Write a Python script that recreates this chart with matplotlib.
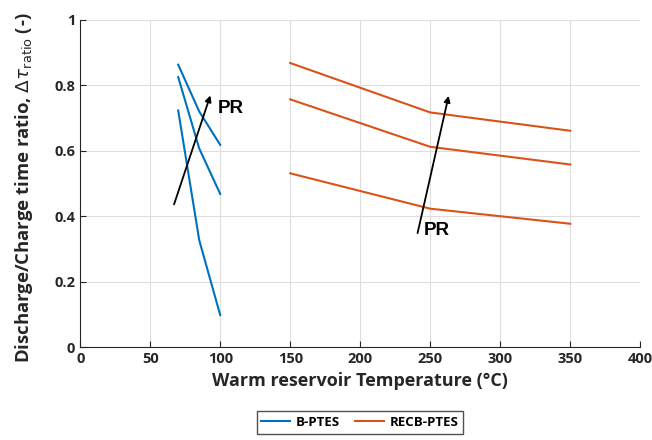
import matplotlib
matplotlib.use("Agg")
import matplotlib.pyplot as plt

# temperatures (°C)
t_b = [70, 85, 100]
t_recb = [150, 250, 350]

# discharge/charge time ratio, one curve per pressure ratio
b_ptes = [
    [0.723, 0.327, 0.098],
    [0.825, 0.607, 0.468],
    [0.863, 0.720, 0.618],
]
recb_ptes = [
    [0.531, 0.423, 0.377],
    [0.757, 0.612, 0.558],
    [0.868, 0.717, 0.661],
]

plt.rcParams['font.family'] = ['Open Sans', 'DejaVu Sans']
plt.rcParams['mathtext.fontset'] = 'dejavusans'

fig = plt.figure(figsize=(6.52, 4.4), dpi=100)
ax = fig.add_axes([0.123, 0.211, 0.859, 0.744])

blue = '#0072BD'
orange = '#D95319'
for i, y in enumerate(b_ptes):
    ax.plot(t_b, y, color=blue, lw=1.5, label='B-PTES' if i == 0 else None)
for i, y in enumerate(recb_ptes):
    ax.plot(t_recb, y, color=orange, lw=1.5, label='RECB-PTES' if i == 0 else None)

# pressure ratio arrows
ax.annotate('', xy=(93.6, 0.777), xytext=(66.4, 0.428),
            arrowprops=dict(arrowstyle='-|>', color='black', lw=1.3, mutation_scale=9))
ax.annotate('', xy=(263.6, 0.776), xytext=(240.5, 0.340),
            arrowprops=dict(arrowstyle='-|>', color='black', lw=1.3, mutation_scale=9))
ax.text(98.5, 0.73, 'PR', fontsize=13.5, fontweight='bold', family='Liberation Sans', va='center')
ax.text(245.5, 0.355, 'PR', fontsize=13.5, fontweight='bold', family='Liberation Sans', va='center')

ax.set_xlim(0, 400)
ax.set_ylim(0, 1)
ax.set_xticks(range(0, 401, 50))
ax.set_yticks([0, 0.2, 0.4, 0.6, 0.8, 1])
ax.set_yticklabels(['0', '0.2', '0.4', '0.6', '0.8', '1'])
ax.grid(True, color='#dddddd', lw=0.8)
ax.set_axisbelow(True)
for s in ['top', 'right']:
    ax.spines[s].set_visible(False)
for s in ['left', 'bottom']:
    ax.spines[s].set_color('#262626')
ax.tick_params(direction='in', length=4, labelsize=10.5, colors='#262626', width=0.8)
for lab in ax.get_xticklabels() + ax.get_yticklabels():
    lab.set_fontweight('bold')

ax.set_xlabel('Warm reservoir Temperature (°C)', fontsize=13, fontweight='bold', color='#262626')
ax.set_ylabel(r'Discharge/Charge time ratio, $\Delta\tau_{\mathrm{ratio}}$ (-)',
              fontsize=13.3, fontweight='bold', color='#262626')
ax.yaxis.set_label_coords(-0.08, 0.488)

fig.legend(loc='center', bbox_to_anchor=(0.552, 0.04), ncol=2,
           prop={'weight': 'bold', 'size': 9.5}, frameon=True, fancybox=False,
           edgecolor='#262626', handlelength=2.2, handletextpad=0.4,
           borderpad=0.35, columnspacing=1.2)

fig.savefig('out.png', dpi=100)
